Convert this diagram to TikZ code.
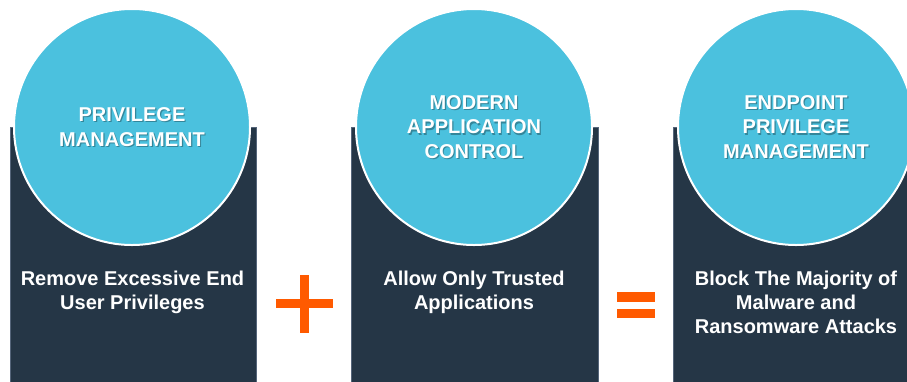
\documentclass[tikz,border=0pt]{standalone}
\usepackage{fontspec}
\setmainfont{Liberation Sans}
\usetikzlibrary{calc}
\definecolor{disc}{HTML}{4BC1DE}
\definecolor{panel}{HTML}{253646}
\definecolor{paneledge}{HTML}{55657A}
\definecolor{accent}{HTML}{FF5A00}
\begin{document}
\begin{tikzpicture}[x=1pt,y=-1pt,
  panelbox/.style={rectangle,fill=panel,draw=paneledge,line width=0.6pt,inner sep=0,anchor=north west},
  discnode/.style={circle,fill=disc,draw=white,line width=2pt,minimum size=236pt,inner sep=0},
  titletext/.style={text=white,font=\fontsize{20}{24.5}\selectfont\bfseries,align=center,inner sep=0},
  titleshade/.style={text=black,opacity=0.3,font=\fontsize{20}{24.5}\selectfont\bfseries,align=center,inner sep=0},
  bodytext/.style={text=white,font=\fontsize{20}{24}\selectfont\bfseries,align=center,inner sep=0,anchor=north},
  bar/.style={fill=accent,draw=none}]
\useasboundingbox (0,0) rectangle (907,381);
\begin{scope}
\clip (0,0) rectangle (907,381);
% dark panels
\node[panelbox,minimum width=246pt,minimum height=260pt] (p1) at (10,127) {};
\node[panelbox,minimum width=247pt,minimum height=260pt] (p2) at (351,127) {};
\node[panelbox,minimum width=250pt,minimum height=260pt] (p3) at (673,127) {};
% discs
\node[discnode] (c1) at (132,127) {};
\node[discnode] (c2) at (474,127) {};
\node[discnode] (c3) at (796,127) {};
\end{scope}
% disc titles with a soft shadow
\node[titleshade] (s1) at ($(c1)+(1.2,1.2)$) {PRIVILEGE\\MANAGEMENT};
\node[titletext] (t1) at (c1) {PRIVILEGE\\MANAGEMENT};
\node[titleshade] (s2) at ($(c2)+(1.2,1.2)$) {MODERN\\APPLICATION\\CONTROL};
\node[titletext] (t2) at (c2) {MODERN\\APPLICATION\\CONTROL};
\node[titleshade] (s3) at ($(c3)+(1.2,1.2)$) {ENDPOINT\\PRIVILEGE\\MANAGEMENT};
\node[titletext] (t3) at (c3) {ENDPOINT\\PRIVILEGE\\MANAGEMENT};
% panel descriptions
\node[bodytext] (b1) at (132.5,271) {Remove Excessive End\\User Privileges};
\node[bodytext] (b2) at (474,271) {Allow Only Trusted\\Applications};
\node[bodytext] (b3) at (796,271) {Block The Majority of\\Malware and\\Ransomware Attacks};
% plus sign
\fill[bar] (275.7,299) rectangle (333.3,308.3);
\fill[bar] (300,275) rectangle (308.7,333.3);
% equals sign
\fill[bar] (616.7,292.3) rectangle (655,301.7);
\fill[bar] (616.7,308.5) rectangle (655,318.3);
\end{tikzpicture}
\end{document}
